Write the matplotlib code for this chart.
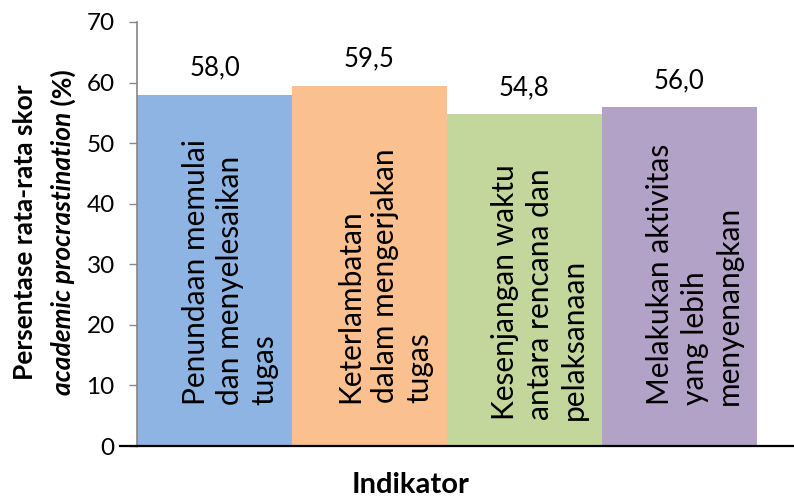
import matplotlib.pyplot as plt
from matplotlib import transforms

# skor rata-rata tiap indikator
indikator = ['Penundaan memulai\ndan menyelesaikan\ntugas',
             'Keterlambatan\ndalam mengerjakan\ntugas',
             'Kesenjangan waktu\nantara rencana dan\npelaksanaan',
             'Melakukan aktivitas\nyang lebih\nmenyenangkan']
persen = [58.0, 59.5, 54.8, 56.0]
warna = ['#8EB4E3', '#FAC090', '#C3D69B', '#B3A2C7']
yticks = [0, 10, 20, 30, 40, 50, 60, 70]

plt.rcParams['font.family'] = ['Lato', 'DejaVu Sans']

fig = plt.figure(figsize=(7.94, 4.98), dpi=100)
W, H = 794, 498
ax = fig.add_axes([137 / W, 1 - 446 / H, (794 - 137) / W, (446 - 22) / H])

x = range(len(persen))
ax.bar(x, persen, width=1.0, color=warna, linewidth=0)
ax.set_xlim(-0.5, 3.74)
ax.set_ylim(0, 70)
ax.set_yticks(yticks)
ax.set_xticks([])
ax.tick_params(axis='y', direction='out', length=6, width=1, color='#868686',
               labelsize=17.5, pad=10)

for s in ['top', 'right']:
    ax.spines[s].set_visible(False)
ax.spines['left'].set_color('#868686')
ax.spines['left'].set_linewidth(1.2)
ax.spines['bottom'].set_color('black')
ax.spines['bottom'].set_linewidth(1.6)
ax.spines['bottom'].set_zorder(5)

# garis sumbu x diteruskan sedikit ke kiri
tr = transforms.blended_transform_factory(ax.transAxes, ax.transData)
ax.plot([-17 / (794 - 137), 0], [0, 0], color='black', lw=1.6,
        transform=tr, clip_on=False)

# label nilai di atas batang
for i, v in enumerate(persen):
    ax.annotate(f'{v:.1f}'.replace('.', ','), (i, v), xytext=(0, 19),
                textcoords='offset points', ha='center', va='center',
                fontsize=18.5)

# nama indikator di dalam batang
dasar = [6.8, 7.1, 4.3, 6.8]
for i, nama in enumerate(indikator):
    ax.text(i + 0.1, dasar[i], nama, rotation=90, ha='center', va='bottom',
            multialignment='left', fontsize=21.5, linespacing=1.28)

# judul sumbu y, baris kedua sebagian miring
fig.text(25 / W, 1 - 232 / H, 'Persentase rata-rata skor', rotation=90,
         ha='center', va='center', fontsize=19, fontweight='bold')

fig.canvas.draw()
r = fig.canvas.get_renderer()
p1 = fig.text(0, 0, 'academic procrastination', rotation=90,
              rotation_mode='anchor', ha='left', va='center',
              fontsize=19, fontweight='bold', style='italic')
p2 = fig.text(0, 0, ' (%)', rotation=90, rotation_mode='anchor',
              ha='left', va='center', fontsize=19, fontweight='bold')
h1 = p1.get_window_extent(r).height
h2 = p2.get_window_extent(r).height
y0 = (H - 232) - (h1 + h2) / 2
p1.set_position((63 / W, y0 / H))
p2.set_position((63 / W, (y0 + h1) / H))

fig.text(411 / W, 1 - 485 / H, 'Indikator', ha='center', va='center',
         fontsize=21, fontweight='bold')

fig.savefig('out.png', dpi=100)
